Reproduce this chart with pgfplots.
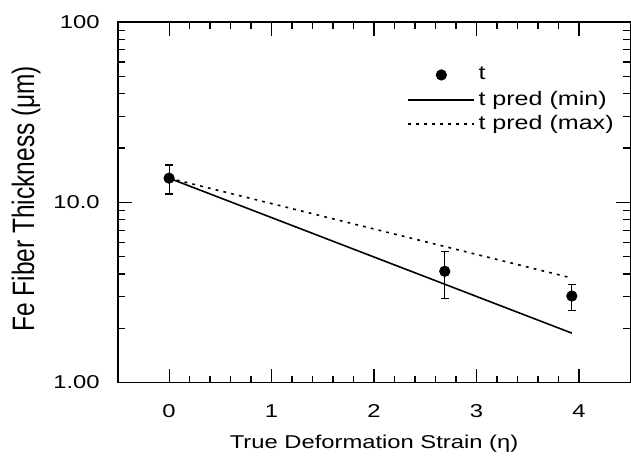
\documentclass[border=0pt]{standalone}
\usepackage{fontspec}
\setmainfont{Liberation Sans}[FakeStretch=1.28]
\newfontfamily\yfont{Liberation Sans}[FakeStretch=0.79]
\usepackage{pgfplots}
\pgfplotsset{compat=1.18}
\pgfplotsset{
    linelegend/.style={legend image code/.code={\draw[##1] (0cm,0cm) -- (1.15cm,0cm);}},
    dotlegend/.style={legend image code/.code={\draw[##1] plot coordinates {(0.58cm,0cm)};
        \path (0.58cm,-6.5pt);}},
}

\pgfplotstableread{
x     y     ep    em
0.00  13.6  2.5   2.5
2.69  4.14  1.18  1.20
3.93  3.02  0.48  0.50
}\thick

\begin{document}
\begin{tikzpicture}
\begin{axis}[
    scale only axis,
    width=256.5pt, height=180.5pt,
    ymode=log,
    xmin=-0.5, xmax=4.5,
    ymin=1, ymax=100,
    xtick={0,1,2,3,4},
    minor x tick num=4,
    ytick={1,10,100},
    yticklabels={1.00,10.0,100},
    tick align=inside,
    major tick length=7pt,
    minor tick length=3.5pt,
    axis line style={line width=0.75pt},
    every tick/.style={black, line width=0.6pt},
    /pgf/number format/assume math mode=true,
    tick label style={font=\fontsize{9.3}{11}\selectfont},
    yticklabel style={xshift=-5.6pt},
    xticklabel style={yshift=-7.4pt},
    xlabel={True Deformation Strain (η)},
    ylabel={Fe Fiber Thickness (μm)},
    xlabel style={font=\fontsize{9.3}{11}\selectfont,
        at={(axis description cs:0.5,0)}, anchor=north, yshift=-22.5pt},
    ylabel style={font=\yfont\fontsize{15.5}{17}\selectfont,
        at={(axis description cs:-0.179,0.51)}, anchor=center},
    legend style={draw=none, fill=none, font=\fontsize{9.8}{11}\selectfont,
        at={(0.553,0.898)}, anchor=north west, row sep=-0.6pt,
        cells={anchor=west}},
    legend cell align=left,
]
\addplot[only marks, mark=*, mark size=2.6pt, black, dotlegend,
    error bars/.cd, y dir=both, y explicit,
    error bar style={line width=0.6pt, black},
    error mark options={rotate=90, mark size=2pt, line width=0.6pt, black}]
    table[x=x, y=y, y error plus=ep, y error minus=em] {\thick};
\addlegendentry{t}
\addplot[black, line width=0.8pt, linelegend]
    coordinates {(0,13.6) (3.93,1.88)};
\addlegendentry{t pred (min)}
\addplot[black, line width=0.8pt, dash pattern=on 1.4pt off 2.6pt, linelegend]
    coordinates {(0,13.6) (3.93,3.80)};
\addlegendentry{t pred (max)}
\end{axis}
\path (current axis.south west) ++(-59pt,-37.5pt);
\path (current axis.north east) ++(0.3pt,11pt);
\end{tikzpicture}
\end{document}
